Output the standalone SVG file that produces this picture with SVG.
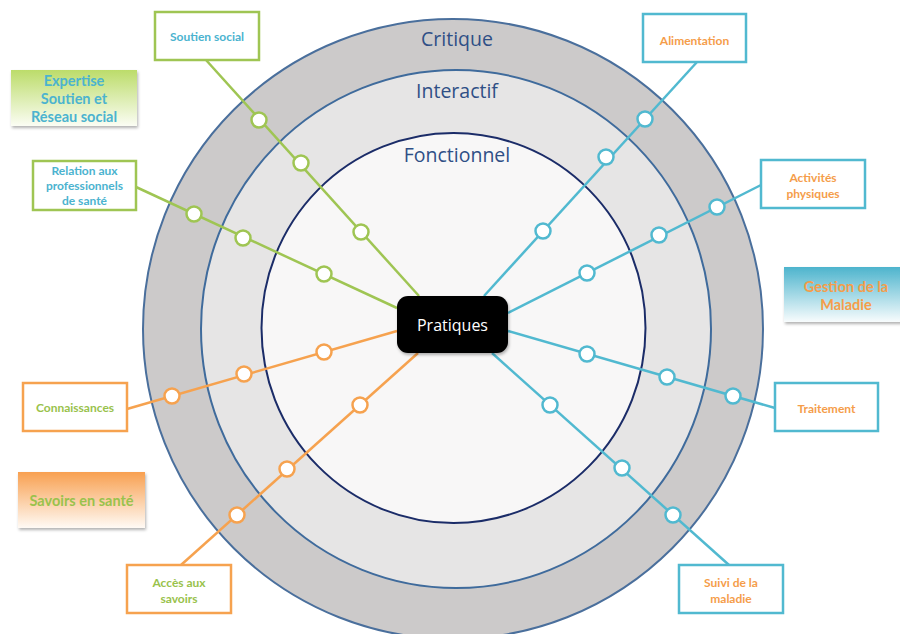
<svg xmlns="http://www.w3.org/2000/svg" width="900" height="634" viewBox="0 0 900 634">
<defs>
<linearGradient id="gG" x1="0" y1="0" x2="0" y2="1"><stop offset="0" stop-color="#bcdc6a"/><stop offset="1" stop-color="#fbfdf4"/></linearGradient>
<linearGradient id="gO" x1="0" y1="0" x2="0" y2="1"><stop offset="0" stop-color="#f8a050"/><stop offset="1" stop-color="#fffaf5"/></linearGradient>
<linearGradient id="gB" x1="0" y1="0" x2="0" y2="1"><stop offset="0" stop-color="#4db4cd"/><stop offset="1" stop-color="#f8fcfd"/></linearGradient>
<filter id="sh" x="-10%" y="-10%" width="130%" height="140%"><feDropShadow dx="1" dy="2" stdDeviation="1.5" flood-color="#000" flood-opacity="0.3"/></filter>
</defs>
<style>
.lv{font-family:"Open Sans","Liberation Sans",sans-serif;font-size:19.5px;fill:#2f4f86;text-anchor:middle}
.bx{fill:#fff;stroke-width:2.5}
.t{font-family:Lato,"Open Sans","Liberation Sans",sans-serif;font-weight:bold;font-size:12px;text-anchor:middle}
.lg{font-family:Lato,"Open Sans","Liberation Sans",sans-serif;font-weight:bold;font-size:14.5px;text-anchor:middle}
.g{stroke:#9fc553}.o{stroke:#f6a24f}.b{stroke:#51b9d0}
.tb{fill:#4bb3cf}.to{fill:#f59d4a}.tg{fill:#99c24c}
.ln{fill:none;stroke-width:2.5}
.dot{fill:#fff;stroke-width:2.5}
</style>
<g id="rings">
<ellipse cx="453" cy="329" rx="310" ry="310" fill="#cccaca" stroke="#4a6f9c" stroke-width="2"/>
<ellipse cx="456" cy="329" rx="255" ry="259" fill="#e6e5e5" stroke="#3f6b9c" stroke-width="2"/>
<ellipse cx="453.5" cy="328" rx="192" ry="195" fill="#f8f7f7" stroke="#1b2c68" stroke-width="2"/>
<text class="lv" x="457" y="46">Critique</text>
<text class="lv" x="457" y="98">Interactif</text>
<text class="lv" x="457" y="162">Fonctionnel</text>
</g>
<g id="connectors">
<line class="ln g" x1="206" y1="60" x2="419" y2="296"/>
<line class="ln g" x1="136" y1="187" x2="397" y2="308"/>
<line class="ln o" x1="127" y1="409" x2="397" y2="331"/>
<line class="ln o" x1="181" y1="565" x2="418" y2="353"/>
<line class="ln b" x1="697" y1="62" x2="484" y2="296"/>
<line class="ln b" x1="761" y1="185" x2="508" y2="313"/>
<line class="ln b" x1="775" y1="408" x2="508" y2="331"/>
<line class="ln b" x1="729" y1="565" x2="492" y2="353"/>
<circle class="dot g" cx="259" cy="120" r="7.5"/>
<circle class="dot g" cx="301" cy="163" r="7.5"/>
<circle class="dot g" cx="361" cy="232" r="7.5"/>
<circle class="dot g" cx="194" cy="214" r="7.5"/>
<circle class="dot g" cx="243" cy="238" r="7.5"/>
<circle class="dot g" cx="324" cy="274" r="7.5"/>
<circle class="dot o" cx="172" cy="396" r="7.5"/>
<circle class="dot o" cx="244" cy="374" r="7.5"/>
<circle class="dot o" cx="324" cy="352" r="7.5"/>
<circle class="dot o" cx="237" cy="515" r="7.5"/>
<circle class="dot o" cx="287" cy="469" r="7.5"/>
<circle class="dot o" cx="360" cy="405" r="7.5"/>
<circle class="dot b" cx="645" cy="119" r="7.5"/>
<circle class="dot b" cx="606" cy="157" r="7.5"/>
<circle class="dot b" cx="543" cy="231" r="7.5"/>
<circle class="dot b" cx="717" cy="207" r="7.5"/>
<circle class="dot b" cx="659" cy="235" r="7.5"/>
<circle class="dot b" cx="587" cy="273" r="7.5"/>
<circle class="dot b" cx="733" cy="396" r="7.5"/>
<circle class="dot b" cx="667" cy="377" r="7.5"/>
<circle class="dot b" cx="587" cy="354" r="7.5"/>
<circle class="dot b" cx="673" cy="515" r="7.5"/>
<circle class="dot b" cx="622" cy="468" r="7.5"/>
<circle class="dot b" cx="550" cy="405" r="7.5"/>
</g>
<g id="pratiques">
<rect x="397" y="296" width="111" height="57" rx="11" fill="#050505" filter="url(#sh)"/>
<text x="452.5" y="331" font-family="'Open Sans','Liberation Sans',sans-serif" font-size="16" fill="#fff" text-anchor="middle">Pratiques</text>
</g>
<g id="soutien-social"><rect class="bx g" x="155" y="12" width="104" height="48"/><text class="t tb" x="207" y="41">Soutien social</text></g>
<g id="relation-pro"><rect class="bx g" x="33" y="161" width="103" height="49"/><text class="t tb" x="84.5" y="175">Relation aux</text><text class="t tb" x="84.5" y="190">professionnels</text><text class="t tb" x="84.5" y="205">de santé</text></g>
<g id="connaissances"><rect class="bx o" x="23" y="383" width="104" height="48"/><text class="t tg" x="75" y="412">Connaissances</text></g>
<g id="acces-savoirs"><rect class="bx o" x="127" y="565" width="104" height="48"/><text class="t tg" x="179" y="587">Accès aux</text><text class="t tg" x="179" y="603">savoirs</text></g>
<g id="alimentation"><rect class="bx b" x="643" y="14" width="103" height="48"/><text class="t to" x="694.5" y="45">Alimentation</text></g>
<g id="activites"><rect class="bx b" x="761" y="160" width="104" height="48"/><text class="t to" x="813" y="182">Activités</text><text class="t to" x="813" y="198">physiques</text></g>
<g id="traitement"><rect class="bx b" x="775" y="383" width="103" height="48"/><text class="t to" x="826.5" y="413">Traitement</text></g>
<g id="suivi"><rect class="bx b" x="679" y="565" width="104" height="48"/><text class="t to" x="731" y="587">Suivi de la</text><text class="t to" x="731" y="603">maladie</text></g>
<g id="legend-expertise"><rect x="11" y="70" width="126" height="56" fill="url(#gG)" filter="url(#sh)"/><text class="lg tb" x="74" y="86">Expertise</text><text class="lg tb" x="74" y="104">Soutien et</text><text class="lg tb" x="74" y="122">Réseau social</text></g>
<g id="legend-savoirs"><rect x="18" y="472" width="127" height="56" fill="url(#gO)" filter="url(#sh)"/><text class="lg tg" x="81.5" y="506">Savoirs en santé</text></g>
<g id="legend-gestion"><rect x="784" y="267" width="118" height="55" fill="url(#gB)" filter="url(#sh)"/><text class="lg to" x="846" y="292">Gestion de la</text><text class="lg to" x="846" y="310">Maladie</text></g>
</svg>
